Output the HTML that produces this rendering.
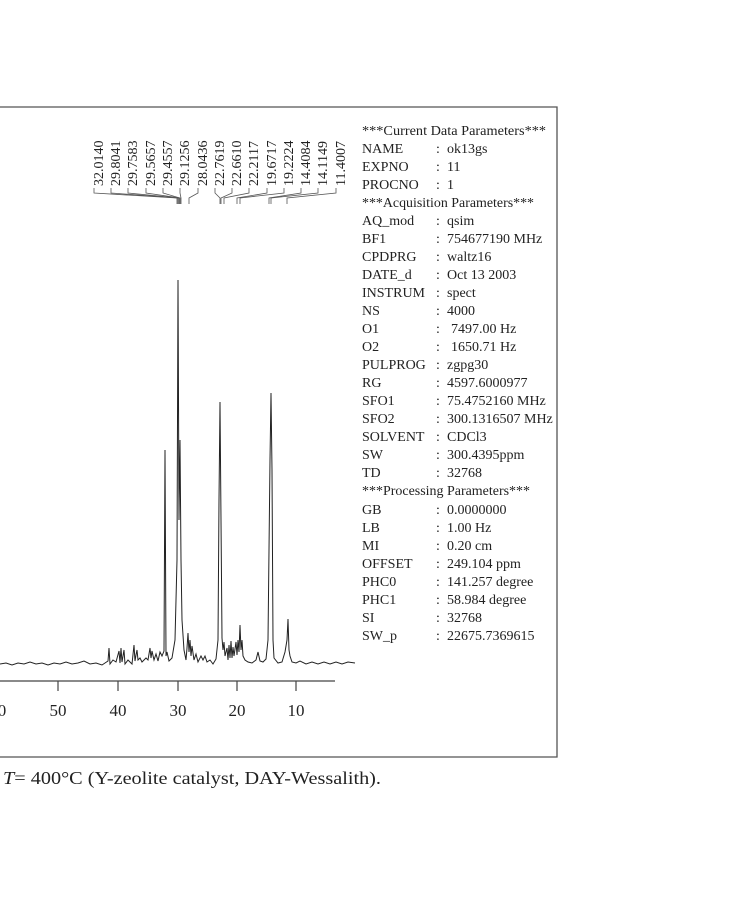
<!DOCTYPE html>
<html><head><meta charset="utf-8"><style>
html,body{margin:0;padding:0;background:#fff;}
svg{display:block}
text{font-family:"Liberation Serif",serif;fill:#222}
</style></head><body>
<svg width="730" height="900" viewBox="0 0 730 900" xmlns="http://www.w3.org/2000/svg">
<polyline points="0,107 557,107 557,757 0,757" fill="none" stroke="#555" stroke-width="1.3"/>
<line x1="0" y1="681" x2="335" y2="681" stroke="#444" stroke-width="1.2"/>
<g stroke="#444" stroke-width="1.2">
<line x1="58" y1="681" x2="58" y2="691"/><line x1="118" y1="681" x2="118" y2="691"/>
<line x1="178" y1="681" x2="178" y2="691"/><line x1="237" y1="681" x2="237" y2="691"/>
<line x1="296" y1="681" x2="296" y2="691"/>
</g>
<g font-size="17" text-anchor="middle">
<text x="2" y="716">0</text><text x="58" y="716">50</text><text x="118" y="716">40</text>
<text x="178" y="716">30</text><text x="237" y="716">20</text><text x="296" y="716">10</text>
</g>
<path fill="none" stroke="#222" stroke-width="1" d="M0,664 L6,663 L12,665 L18,663 L24,664 L30,662 L36,664 L42,663 L48,665 L54,663 L60,664 L66,662 L72,664 L78,663 L84,661 L90,664 L96,663 L102,665 L108,661 L109,648 L110,664 L113,660 L116,662 L119,651 L120,663 L121,648 L122,662 L124,650 L125,664 L128,660 L132,664 L134,645 L135,661 L136,655 L137,650 L138,660 L140,658 L142,662 L146,658 L148,660 L150,648 L151,658 L152,651 L154,660 L156,654 L158,661 L160,652 L162,656 L164,651 L165,450 L166,656 L167,652 L169,661 L172,658 L175,640 L177,560 L178,280 L179,520 L180,440 L181,560 L182,620 L184,650 L186,660 L187,648 L188,633 L189,652 L190,640 L191,656 L192,646 L194,660 L196,654 L198,662 L201,656 L203,660 L205,656 L207,662 L210,660 L213,664 L216,659 L218,640 L219,500 L220,402 L221,520 L222,638 L223,650 L224,642 L225,656 L227,648 L228,660 L229,645 L230,658 L231,641 L232,658 L233,647 L234,656 L236,642 L237,655 L238,640 L239,652 L240,625 L241,650 L242,640 L243,656 L245,660 L248,662 L252,663 L256,660 L258,652 L260,661 L263,662 L266,659 L268,640 L270,460 L271,393 L272,470 L273,640 L274,658 L278,663 L282,662 L285,652 L286,646 L287,640 L288,619 L289,650 L290,656 L292,662 L296,663 L300,661 L306,664 L312,662 L318,664 L324,662 L330,664 L336,662 L342,664 L348,662 L355,663"/>
<g font-size="14">
<text transform="translate(103,186) rotate(-90)">32.0140</text>
<text transform="translate(120,186) rotate(-90)">29.8041</text>
<text transform="translate(137,186) rotate(-90)">29.7583</text>
<text transform="translate(155,186) rotate(-90)">29.5657</text>
<text transform="translate(172,186) rotate(-90)">29.4557</text>
<text transform="translate(189,186) rotate(-90)">29.1256</text>
<text transform="translate(207,186) rotate(-90)">28.0436</text>
<text transform="translate(224,186) rotate(-90)">22.7619</text>
<text transform="translate(241,186) rotate(-90)">22.6610</text>
<text transform="translate(258,186) rotate(-90)">22.2117</text>
<text transform="translate(276,186) rotate(-90)">19.6717</text>
<text transform="translate(293,186) rotate(-90)">19.2224</text>
<text transform="translate(310,186) rotate(-90)">14.4084</text>
<text transform="translate(327,186) rotate(-90)">14.1149</text>
<text transform="translate(345,186) rotate(-90)">11.4007</text>
</g>
<g fill="none" stroke="#555" stroke-width="0.8">
<polyline points="94,188 94,193 177,198 177,204"/>
<polyline points="111,188 111,193 178,198 178,204"/>
<polyline points="128,188 128,193 179,198 179,204"/>
<polyline points="146,188 146,193 180,198 180,204"/>
<polyline points="163,188 163,193 180,198 180,204"/>
<polyline points="180,188 180,193 181,198 181,204"/>
<polyline points="198,188 198,193 189,198 189,204"/>
<polyline points="215,188 215,193 220,198 220,204"/>
<polyline points="232,188 232,193 221,198 221,204"/>
<polyline points="249,188 249,193 224,198 224,204"/>
<polyline points="267,188 267,193 237,198 237,204"/>
<polyline points="284,188 284,193 240,198 240,204"/>
<polyline points="301,188 301,193 269,198 269,204"/>
<polyline points="318,188 318,193 271,198 271,204"/>
<polyline points="336,188 336,193 287,198 287,204"/>
</g>
<g font-size="14">
<text x="362" y="135" textLength="184" lengthAdjust="spacingAndGlyphs">***Current Data Parameters***</text>
<text x="362" y="153">NAME</text><text x="436" y="153">:</text><text x="447" y="153">ok13gs</text>
<text x="362" y="171">EXPNO</text><text x="436" y="171">:</text><text x="447" y="171">11</text>
<text x="362" y="189">PROCNO</text><text x="436" y="189">:</text><text x="447" y="189">1</text>
<text x="362" y="207" textLength="172" lengthAdjust="spacingAndGlyphs">***Acquisition Parameters***</text>
<text x="362" y="225">AQ_mod</text><text x="436" y="225">:</text><text x="447" y="225">qsim</text>
<text x="362" y="243">BF1</text><text x="436" y="243">:</text><text x="447" y="243">754677190 MHz</text>
<text x="362" y="261">CPDPRG</text><text x="436" y="261">:</text><text x="447" y="261">waltz16</text>
<text x="362" y="279">DATE_d</text><text x="436" y="279">:</text><text x="447" y="279">Oct 13 2003</text>
<text x="362" y="297">INSTRUM</text><text x="436" y="297">:</text><text x="447" y="297">spect</text>
<text x="362" y="315">NS</text><text x="436" y="315">:</text><text x="447" y="315">4000</text>
<text x="362" y="333">O1</text><text x="436" y="333">:</text><text x="451" y="333">7497.00 Hz</text>
<text x="362" y="351">O2</text><text x="436" y="351">:</text><text x="451" y="351">1650.71 Hz</text>
<text x="362" y="369">PULPROG</text><text x="436" y="369">:</text><text x="447" y="369">zgpg30</text>
<text x="362" y="387">RG</text><text x="436" y="387">:</text><text x="447" y="387">4597.6000977</text>
<text x="362" y="405">SFO1</text><text x="436" y="405">:</text><text x="447" y="405">75.4752160 MHz</text>
<text x="362" y="423">SFO2</text><text x="436" y="423">:</text><text x="447" y="423">300.1316507 MHz</text>
<text x="362" y="441">SOLVENT</text><text x="436" y="441">:</text><text x="447" y="441">CDCl3</text>
<text x="362" y="459">SW</text><text x="436" y="459">:</text><text x="447" y="459">300.4395ppm</text>
<text x="362" y="477">TD</text><text x="436" y="477">:</text><text x="447" y="477">32768</text>
<text x="362" y="495" textLength="168" lengthAdjust="spacingAndGlyphs">***Processing Parameters***</text>
<text x="362" y="514">GB</text><text x="436" y="514">:</text><text x="447" y="514">0.0000000</text>
<text x="362" y="532">LB</text><text x="436" y="532">:</text><text x="447" y="532">1.00 Hz</text>
<text x="362" y="550">MI</text><text x="436" y="550">:</text><text x="447" y="550">0.20 cm</text>
<text x="362" y="568">OFFSET</text><text x="436" y="568">:</text><text x="447" y="568">249.104 ppm</text>
<text x="362" y="586">PHC0</text><text x="436" y="586">:</text><text x="447" y="586">141.257 degree</text>
<text x="362" y="604">PHC1</text><text x="436" y="604">:</text><text x="447" y="604">58.984 degree</text>
<text x="362" y="622">SI</text><text x="436" y="622">:</text><text x="447" y="622">32768</text>
<text x="362" y="640">SW_p</text><text x="436" y="640">:</text><text x="447" y="640">22675.7369615</text>
</g>
<text x="3" y="784" font-size="18" textLength="378" lengthAdjust="spacingAndGlyphs"><tspan font-style="italic">T</tspan>= 400°C (Y-zeolite catalyst, DAY-Wessalith).</text>
</svg>
</body></html>
